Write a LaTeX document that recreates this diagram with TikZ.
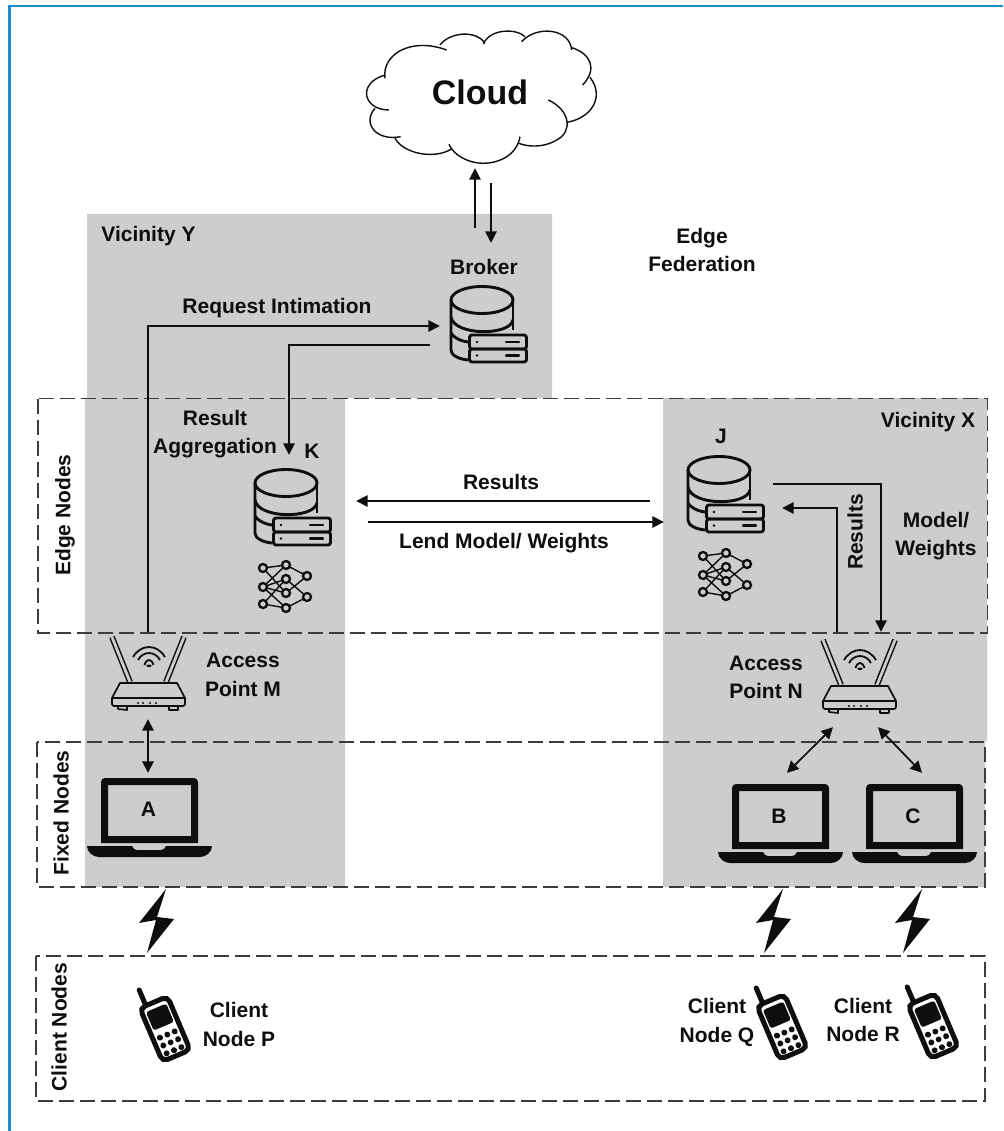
\documentclass[tikz,border=0pt]{standalone}
\usepackage{fontspec}
\setmainfont{Liberation Sans}
\usetikzlibrary{arrows.meta,calc}
\definecolor{zone}{HTML}{CDCDCD}
\definecolor{frameblue}{HTML}{1E8CC8}
\definecolor{ink}{HTML}{0E0E0E}
\definecolor{dashgray}{HTML}{3C3C3C}
\tikzset{
  lbl/.style={font=\fontsize{21}{28.5}\selectfont\bfseries,text=ink,inner sep=0pt,align=center},
  anchorbox/.style={inner sep=0pt,minimum width=#1,draw=none},
  group/.style={draw=dashgray,line width=1.5pt,dash pattern=on 15pt off 6pt},
  conn/.style={draw=ink,line width=1.7pt},
  tip/.style={-{Triangle[length=11.5pt,width=11.5pt]}},
  both/.style={{Triangle[length=11.5pt,width=11.5pt]}-{Triangle[length=11.5pt,width=11.5pt]}},
  database/.pic={
    \begin{scope}[draw=ink,line width=2.9pt]
      \draw (0,0) ellipse [x radius=31,y radius=13.5];
      \draw (-31,0) -- (-31,50) .. controls (-31,55) and (-24,59) .. (-14,60);
      \draw (31,0) -- (31,30);
      \draw (-31,17) .. controls (-28,36) and (28,36) .. (31,20);
      \draw (-31,33) .. controls (-29,37) and (-22,41) .. (-14,42);
      \draw[rounded corners=2.5] (-12.5,35) rectangle (44.5,49);
      \draw[rounded corners=2.5] (-12.5,49) rectangle (44.5,62);
      \draw[line width=2.4pt,line cap=round] (24,42) -- (37,42) (24,55.5) -- (37,55.5);
      \fill[ink] (-5,42) circle [radius=1.4] (-5,55.5) circle [radius=1.4];
    \end{scope}
  },
  neuralnet/.pic={
    \begin{scope}[draw=ink,line width=1.4pt]
      \draw (-23,-18) -- (0,-21) (-23,-18) -- (0,7)
            (-23,1) -- (0,-21) (-23,1) -- (0,-7) (-23,1) -- (0,7) (-23,1) -- (0,22)
            (-23,18) -- (0,-7) (-23,18) -- (0,22)
            (0,-21) -- (21,-10) (0,-7) -- (21,11)
            (0,7) -- (21,-10) (0,22) -- (21,11);
      \foreach \px/\py in {-23/-18,-23/1,-23/18,0/-21,0/-7,0/7,0/22,21/-10,21/11}
        \draw[fill=zone,line width=2.3pt] (\px,\py) circle [radius=4];
    \end{scope}
  },
  router/.pic={
    \begin{scope}[draw=ink,line width=1.7pt,line join=round]
      \draw[double=zone,double distance=2.8pt,line width=1.5pt] (-36,-38) -- (-18,7);
      \draw[double=zone,double distance=2.8pt,line width=1.5pt] (36,-38) -- (18,7);
      \draw[fill=zone] (-28,8) -- (29,8) -- (37,23) -- (37,29) .. controls (37,30) and (36,31) .. (35,31)
        -- (-34,31) .. controls (-35,31) and (-36,30) .. (-36,29) -- (-36,23) -- cycle;
      \draw (-36,23) -- (37,23);
      \draw (-30,31) -- (-30,34) -- (-21,35) -- (-21,31) (21,31) -- (21,35) -- (30,35) -- (30,31);
      \fill[ink] (-10,28) circle [radius=1.1] (-5,28) circle [radius=1.1] (2,28) circle [radius=1.1] (8,28) circle [radius=1.1];
      \draw[line width=1.8pt] (-15,-18) .. controls (-7,-31.3) and (9,-31.3) .. (17,-18);
      \draw[line width=1.8pt] (-10,-15) .. controls (-5,-24.3) and (7,-24.3) .. (12,-15);
      \draw[line width=1.8pt] (-3.5,-10) .. controls (-1.5,-16.7) and (3.5,-16.7) .. (5.5,-10);
      \fill[ink] (1,-9.2) ellipse [x radius=2.6,y radius=1.3];
    \end{scope}
  },
  laptop/.pic={
    \fill[ink,even odd rule] (0,65) {[rounded corners=4] -- (0,0) -- (97,0)} -- (97,65) -- cycle
      (7,7) rectangle (90,58);
    \fill[ink] (-14,68) -- (31,68) .. controls (32,71) and (34,72) .. (36,72) -- (60,72)
      .. controls (62,72) and (64,71) .. (65,68) -- (111,68)
      .. controls (111,74) and (105,79) .. (99,79) -- (-2,79) .. controls (-8,79) and (-14,74) .. (-14,68) -- cycle;
  },
  phone/.pic={
    \draw[ink,line width=5pt,rounded corners=5.5] (-15,-29) rectangle (15,29);
    \draw[ink,line width=5pt,line cap=round] (-8.5,-31) -- (-8.5,-46);
    \fill[ink,rounded corners=2.5] (-11,-23) rectangle (11,-3);
    \foreach \px in {-8,0,8} \foreach \py in {6,14.5,23} \fill[ink] (\px,\py) circle [radius=3];
  },
  bolt/.pic={
    \fill[ink] (0,0) -- (-27,34) -- (-10,31) -- (-19,64) -- (8,30) -- (-9,28) -- cycle;
  }
}
\begin{document}
\begin{tikzpicture}[x=1pt,y=-1pt]
\useasboundingbox (0,0) rectangle (1003,1131);
% frame
\draw[frameblue,line width=2.6pt] (9.5,1131) -- (9.5,6) -- (1003,6);
% vicinity zones
\fill[zone] (87,214) -- (552,214) -- (552,398) -- (345,398) -- (345,887) -- (85,887) -- (85,398) -- (87,398) -- cycle;
\fill[zone] (663,398) -- (987,398) -- (987,741) -- (985,741) -- (985,887) -- (663,887) -- cycle;
% tiers
\draw[group] (38,398.5) rectangle (987.5,633);
\draw[group] (37,742) rectangle (985,887);
\draw[group] (36,956) rectangle (985,1101);
% cloud
\begin{scope}[shift={(340,0)},x=.3333pt,y=-.3333pt,draw=ink,line width=1.4pt]
  \draw (135,235) .. controls (125,165) and (210,110) .. (320,150);
  \draw (300,135) .. controls (330,95) and (410,90) .. (435,130);
  \draw (430,132) .. controls (450,85) and (530,85) .. (555,110);
  \draw (545,125) .. controls (590,75) and (690,85) .. (695,150);
  \draw (695,143) .. controls (750,160) and (775,205) .. (728,255);
  \draw (750,232) .. controls (795,290) and (755,355) .. (680,367);
  \draw (625,300) .. controls (690,330) and (700,395) .. (650,420) .. controls (610,445) and (560,440) .. (537,430);
  \draw (540,410) .. controls (530,470) and (470,490) .. (430,490) .. controls (385,490) and (340,465) .. (327,433);
  \draw (335,447) .. controls (280,480) and (190,460) .. (165,415);
  \draw (182,410) .. controls (110,425) and (65,370) .. (105,325);
  \draw (147,330) .. controls (70,330) and (50,250) .. (135,225);
\end{scope}
% anchor boxes that carry the connectors
\node[anchorbox=238pt,minimum height=138pt] (cloud) at (480,99) {};
\node[anchorbox=90pt,minimum height=80pt] (broker) at (485,326) {};
\node[anchorbox=134pt,minimum height=92pt] (k) at (289,501) {};
\node[anchorbox=140pt,minimum height=92pt] (j) at (720,501) {};
\node[anchorbox=80pt,minimum height=87pt] (apm) at (148,675.5) {};
\node[anchorbox=80pt,minimum height=95pt] (apn) at (859,679.5) {};
\node[anchorbox=124pt,minimum height=84pt] (lapa) at (148,815) {};
\node[anchorbox=124pt,minimum height=90pt] (lapb) at (780,818) {};
\node[anchorbox=124pt,minimum height=90pt] (lapc) at (915,818) {};
% icons
\pic at (482,300) {database};
\pic at (286,483) {database};
\pic at (719,470) {database};
\pic at (286,586) {neuralnet};
\pic at (726,574) {neuralnet};
\pic at (148,675) {router};
\pic at (859,678) {router};
\pic at (101,778) {laptop};
\pic at (732,784) {laptop};
\pic at (866,784) {laptop};
\pic at (166,889) {bolt};
\pic at (783,889) {bolt};
\pic at (922,889) {bolt};
\pic[rotate=23] at (165,1029) {phone};
\pic[rotate=23] at (782,1027) {phone};
\pic[rotate=23] at (933,1026) {phone};
% connectors
\draw[conn,tip] ([shift={(-5,60)}]cloud.south) -- ([shift={(-5,0)}]cloud.south);
\draw[conn,tip] ([shift={(11,15)}]cloud.south) -- ([shift={(6,-43)}]broker.north);
\draw[conn,tip] (apm.north) |- (broker.west);
\draw[conn,tip] ([shift={(-10,19)}]broker.west) -| (k.north);
\draw[conn,tip] (j.west) -- (k.east);
\draw[conn,tip] ([shift={(12,21)}]k.east) -- ([shift={(14,21)}]j.west);
\draw[conn,tip] ([shift={(-17,-17)}]j.east) -| ([xshift=22pt]apn.north);
\draw[conn,tip] ([xshift=-22pt]apn.north) |- ([shift={(-8,7)}]j.east);
\draw[conn,both] (apm.south) -- (lapa.north);
\draw[conn,both] ([xshift=-26pt]apn.south) -- ([xshift=7pt]lapb.north);
\draw[conn,both] ([xshift=19pt]apn.south) -- ([xshift=7pt]lapc.north);
% labels
\node[lbl,font=\fontsize{34}{40}\selectfont\bfseries] (tcloud) at (480,92) {Cloud};
\node[lbl] (tviy) at (148.5,236.5) {Vicinity Y};
\node[lbl] (tbroker) at (484,267) {Broker};
\node[lbl] (tfed) at (702,250) {Edge\\Federation};
\node[lbl] (treq) at (277,308.5) {Request Intimation};
\node[lbl] (tagg) at (215,434) {Result\\Aggregation};
\node[lbl] (tk) at (312,451) {K};
\node[lbl] (tres) at (501,482) {Results};
\node[lbl] (tlend) at (504,543) {Lend Model/ Weights};
\node[lbl] (tj) at (721,436) {J};
\node[lbl] (tvix) at (928,422) {Vicinity X};
\node[lbl] (tmod) at (936,536) {Model/\\Weights};
\node[lbl,rotate=90] (tres2) at (855,532) {Results};
\node[lbl] (tapm) at (243,675) {Access\\Point M};
\node[lbl] (tapn) at (766,677.5) {Access\\Point N};
\node[lbl] (ta) at (148.5,809) {A};
\node[lbl] (tb) at (779,816) {B};
\node[lbl] (tc) at (913,816) {C};
\node[lbl,rotate=90] (tedge) at (65,515) {Edge Nodes};
\node[lbl,rotate=90] (tfixed) at (61,813) {Fixed Nodes};
\node[lbl,rotate=90] (tclient) at (59,1027) {Client Nodes};
\node[lbl] (tp) at (239,1024.5) {Client\\Node P};
\node[lbl] (tq) at (717,1022.5) {Client\\Node Q};
\node[lbl] (tr) at (863,1020) {Client\\Node R};
\end{tikzpicture}
\end{document}
